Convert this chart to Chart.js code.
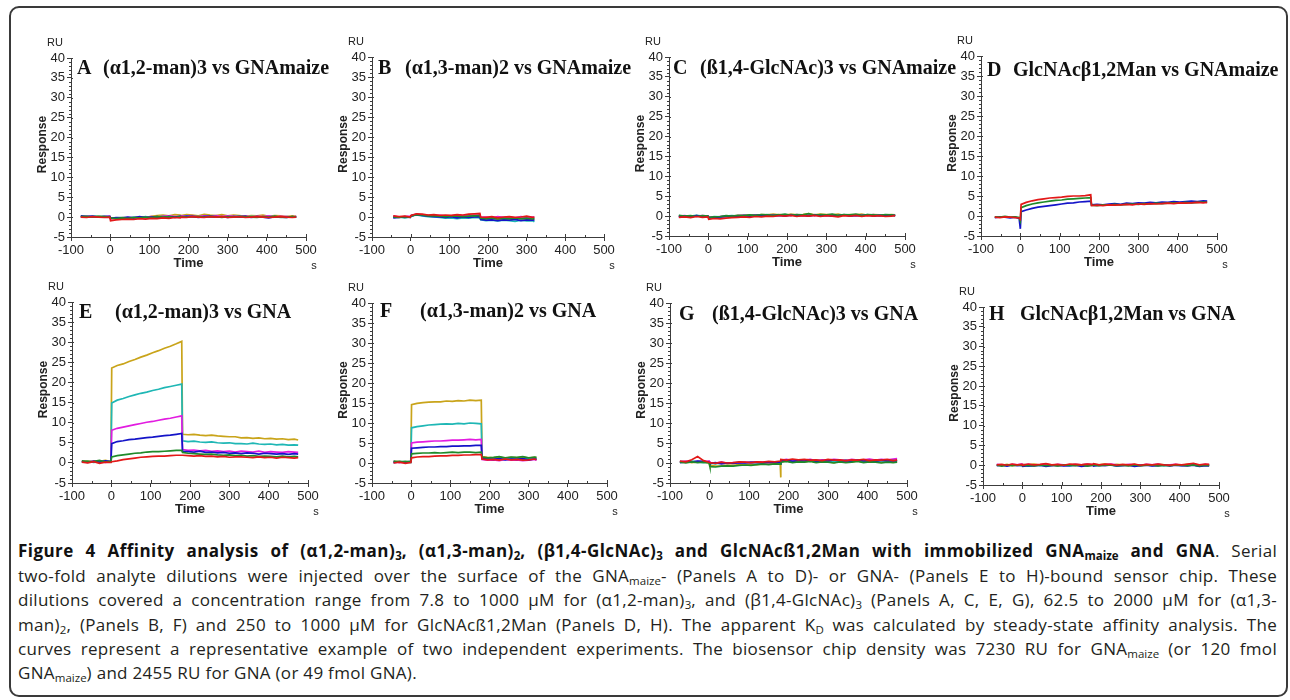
<!DOCTYPE html>
<html><head><meta charset="utf-8">
<script src="https://cdn.jsdelivr.net/npm/chart.js@4.4.1/dist/chart.umd.min.js"></script>
<style>
html,body{margin:0;padding:0;background:#fff;width:1290px;height:700px;overflow:hidden;}
#frame{position:absolute;left:9px;top:6px;width:1279px;height:691px;border:2px solid #3a3a3a;border-radius:10px;box-sizing:border-box;}
canvas{position:absolute;}
.cap{position:absolute;left:18px;width:1259px;font-family:"Open Sans",sans-serif;font-size:17px;letter-spacing:0.3px;color:#231f20;white-space:nowrap;text-align:justify;text-align-last:justify;line-height:20px;}
.cap.last{text-align-last:left;}
.cap b{color:#111;letter-spacing:0.45px;}
sub{font-size:11.5px;vertical-align:-3px;line-height:0;letter-spacing:0;}
</style></head>
<body>
<div id="frame"></div>
<div id="charts"></div>
<div class="cap" style="top:541px"><b>Figure 4 Affinity analysis of (α1,2-man)<sub>3</sub>, (α1,3-man)<sub>2</sub>, (β1,4-GlcNAc)<sub>3</sub> and GlcNAcß1,2Man with immobilized GNA<sub>maize</sub> and GNA</b>. Serial</div>
<div class="cap" style="top:566px">two-fold analyte dilutions were injected over the surface of the GNA<sub>maize</sub>- (Panels A to D)- or GNA- (Panels E to H)-bound sensor chip. These</div>
<div class="cap" style="top:590px">dilutions covered a concentration range from 7.8 to 1000 μM for (α1,2-man)<sub>3</sub>, and (β1,4-GlcNAc)<sub>3</sub> (Panels A, C, E, G), 62.5 to 2000 μM for (α1,3-</div>
<div class="cap" style="top:615px">man)<sub>2</sub>, (Panels B, F) and 250 to 1000 μM for GlcNAcß1,2Man (Panels D, H). The apparent K<sub>D</sub> was calculated by steady-state affinity analysis. The</div>
<div class="cap" style="top:639px">curves represent a representative example of two independent experiments. The biosensor chip density was 7230 RU for GNA<sub>maize</sub> (or 120 fmol</div>
<div class="cap last" style="top:663px">GNA<sub>maize</sub>) and 2455 RU for GNA (or 49 fmol GNA).</div>
<script>
// ---------- time grids (s) ----------
const tLong = [-75,-60,-45,-30,-15,-1,1,15,30,45,60,75,90,105,120,135,150,165,179,181,195,210,225,240,255,270,285,300,315,330,345,360,375,390,405,420,435,450,465,475];
const tShort = [-45,-30,-15,-1,1,15,30,45,60,75,90,105,120,135,150,165,179,181,195,210,225,240,255,270,285,300,315,320];
const tD = [-65,-52,-39,-26,-13,-3,0,2,15,30,45,60,75,90,105,120,135,150,165,179,181,195,210,225,240,255,270,285,300,315,330,345,360,375,390,405,420,435,450,465,475];
const tG = [-75,-60,-45,-30,-15,-1,1,15,30,45,60,75,90,105,120,135,150,165,179,180,181,195,210,225,240,255,270,285,300,315,330,345,360,375,390,405,420,435,450,465,475];
const tH = [-65,-52,-39,-26,-13,-1,1,15,30,45,60,75,90,105,120,135,150,165,179,181,195,210,225,240,255,270,285,300,315,330,345,360,375,390,405,420,435,450,465,475];

// ---------- axis ticks ----------
const xTicks = [-100,0,100,200,300,400,500];
const yTicks = [-5,0,5,10,15,20,25,30,35,40];

// ---------- panel titles ----------
const panelLetters = ['A','B','C','D','E','F','G','H'];
const panelTitles = ['(α1,2-man)3 vs GNAmaize','(α1,3-man)2 vs GNAmaize','(ß1,4-GlcNAc)3 vs GNAmaize','GlcNAcβ1,2Man vs GNAmaize','(α1,2-man)3 vs GNA','(α1,3-man)2 vs GNA','(ß1,4-GlcNAc)3 vs GNA','GlcNAcβ1,2Man vs GNA'];

// ---------- Panel A (Response, RU) ----------
const aYellow = [0.1,0.0,0.2,0.1,0.0,0.1,-0.2,-0.3,-0.1,-0.2,-0.1,0.0,-0.1,0.2,0.4,0.5,0.3,0.6,0.5,0.4,0.6,0.5,0.3,0.7,0.5,0.4,0.6,0.3,0.5,0.4,0.2,0.4,0.3,0.5,0.2,0.4,0.3,0.1,0.3,0.2];
const aCyan = [0.2,0.1,0.3,0.1,0.2,0.0,-0.3,-0.2,-0.1,-0.3,0.0,-0.2,0.1,-0.1,0.0,0.2,0.1,0.0,0.2,0.1,0.3,0.2,0.0,0.3,0.1,0.2,0.0,0.2,0.1,0.3,0.0,0.2,0.1,0.0,0.2,0.1,-0.1,0.1,0.0,0.1];
const aMagenta = [0.0,0.2,0.1,0.0,0.1,0.2,-0.4,-0.2,-0.3,-0.1,-0.2,0.0,-0.1,0.1,0.0,0.2,0.3,0.1,0.2,0.3,0.2,0.4,0.1,0.3,0.2,0.4,0.1,0.3,0.2,0.1,0.3,0.0,0.2,0.1,0.3,0.0,0.2,0.1,0.0,0.2];
const aBlue = [0.3,0.1,0.2,0.0,0.1,0.2,-0.3,-0.1,-0.2,0.0,-0.2,0.1,-0.1,0.0,0.1,-0.1,0.1,0.0,0.2,0.0,0.2,0.1,-0.1,0.1,0.2,0.0,0.1,-0.1,0.1,0.0,0.2,-0.1,0.1,0.0,-0.2,0.1,0.0,-0.1,0.1,0.0];
const aGreen = [0.1,0.2,0.0,0.2,0.1,0.0,-0.2,-0.4,-0.2,-0.3,-0.1,-0.2,0.0,-0.1,0.1,0.0,0.1,-0.1,0.1,0.1,0.0,0.2,0.1,0.0,0.2,0.1,-0.1,0.1,0.0,0.2,0.1,0.0,-0.1,0.1,0.0,0.2,0.0,-0.1,0.1,0.0];
const aRed = [0.0,-0.1,0.1,0.0,-0.1,0.0,-0.9,-0.7,-0.6,-0.5,-0.6,-0.4,-0.5,-0.3,-0.4,-0.2,-0.3,-0.1,-0.2,0.0,-0.1,0.1,0.0,-0.1,0.1,0.0,0.1,-0.1,0.0,0.1,-0.1,0.0,0.1,0.0,-0.1,0.0,0.1,0.0,-0.1,0.0];

// ---------- Panel B ----------
const bYellow = [0.1,0.0,-0.1,0.1,0.3,0.6,0.5,0.4,0.4,0.3,0.2,0.3,0.2,0.3,0.1,0.2,0.3,-0.4,-0.5,-0.3,-0.6,-0.4,-0.5,-0.3,-0.5,-0.4,-0.6,-0.5];
const bCyan = [-0.1,0.0,-0.2,0.0,0.2,0.5,0.3,0.1,0.0,-0.1,-0.3,-0.2,-0.4,-0.2,-0.3,-0.1,-0.2,-0.7,-0.9,-0.8,-1.0,-0.8,-0.9,-1.1,-0.8,-1.0,-0.9,-1.2];
const bMagenta = [0.2,0.0,0.1,0.2,0.4,0.7,0.5,0.4,0.3,0.4,0.2,0.3,0.4,0.3,0.2,0.4,0.5,-0.1,0.0,-0.2,0.1,-0.1,0.0,-0.2,0.1,-0.1,0.0,-0.1];
const bBlue = [-0.2,-0.1,0.0,-0.1,0.3,0.6,0.4,0.2,0.1,0.0,-0.1,0.1,-0.2,0.0,-0.1,0.0,0.1,-0.6,-0.8,-0.7,-0.9,-0.7,-0.8,-0.6,-0.9,-0.7,-0.8,-0.7];
const bGreen = [0.0,-0.1,0.1,-0.1,0.3,0.6,0.5,0.3,0.3,0.2,0.1,0.3,0.2,0.1,0.2,0.3,0.4,-0.3,-0.4,-0.2,-0.5,-0.3,-0.4,-0.2,-0.4,-0.3,-0.5,-0.3];
const bRed = [0.3,0.1,0.2,0.0,0.4,0.8,0.7,0.5,0.6,0.4,0.5,0.4,0.6,0.5,0.7,0.8,0.9,0.0,-0.1,0.1,-0.2,0.0,0.1,-0.1,0.0,0.2,-0.1,0.0];

// ---------- Panel C ----------
const cYellow = [-0.1,0.0,-0.2,0.1,-0.1,0.0,-0.4,-0.2,-0.3,-0.1,0.0,0.1,0.2,0.3,0.2,0.4,0.3,0.5,0.3,0.4,0.2,0.5,0.3,0.4,0.6,0.3,0.5,0.4,0.3,0.5,0.2,0.4,0.3,0.5,0.2,0.4,0.3,0.2,0.4,0.3];
const cCyan = [0.1,-0.1,0.0,0.2,0.0,-0.1,-0.3,-0.1,-0.2,0.0,0.1,0.0,0.2,0.1,0.3,0.2,0.4,0.2,0.3,0.3,0.1,0.4,0.2,0.3,0.1,0.4,0.2,0.3,0.1,0.2,0.4,0.1,0.3,0.2,0.4,0.1,0.3,0.2,0.1,0.2];
const cMagenta = [0.0,0.1,-0.1,0.0,0.1,0.0,-0.2,-0.3,-0.1,0.0,-0.1,0.1,0.2,0.1,0.3,0.2,0.1,0.3,0.2,0.2,0.3,0.1,0.4,0.2,0.3,0.1,0.3,0.2,0.4,0.1,0.3,0.2,0.1,0.3,0.2,0.4,0.1,0.2,0.3,0.2];
const cBlue = [-0.2,0.0,-0.1,0.1,-0.1,0.0,-0.5,-0.3,-0.2,-0.1,0.0,-0.1,0.1,0.0,0.2,0.3,0.1,0.2,0.1,0.2,0.0,0.3,0.1,0.2,0.0,0.3,0.1,0.2,0.0,0.1,0.3,0.0,0.2,0.1,0.3,0.0,0.2,0.1,0.3,0.1];
const cGreen = [0.2,0.0,0.1,-0.1,0.1,0.0,-0.3,-0.2,-0.1,0.1,0.0,0.2,0.1,0.3,0.2,0.4,0.3,0.2,0.4,0.3,0.5,0.2,0.4,0.3,0.6,0.2,0.4,0.3,0.5,0.2,0.4,0.3,0.5,0.2,0.4,0.3,0.2,0.4,0.3,0.2];
const cRed = [-0.3,-0.2,-0.4,-0.1,-0.3,-0.2,-0.8,-0.6,-0.7,-0.5,-0.4,-0.3,-0.2,-0.3,-0.1,-0.2,0.0,-0.1,0.1,0.1,0.0,0.2,-0.1,0.1,0.0,0.2,-0.1,0.1,0.0,-0.2,0.1,0.0,0.2,-0.1,0.1,0.0,0.1,-0.1,0.0,0.1];

// ---------- Panel D ----------
const dBlue = [-0.4,-0.2,-0.3,-0.5,-0.3,-0.6,-3.2,1.1,1.5,1.9,2.2,2.4,2.6,2.8,3.0,3.2,3.3,3.5,3.6,3.7,2.8,2.9,2.8,3.0,3.1,2.9,3.2,3.1,3.3,3.2,3.4,3.3,3.5,3.4,3.6,3.5,3.6,3.7,3.6,3.8,3.7];
const dGreen = [-0.2,-0.3,-0.1,-0.3,-0.2,-0.4,-1.2,2.1,2.6,3.0,3.3,3.5,3.7,3.9,4.0,4.2,4.3,4.4,4.5,4.6,2.7,2.6,2.8,2.7,2.9,2.8,2.9,3.0,2.9,3.1,3.0,3.2,3.1,3.2,3.3,3.2,3.4,3.3,3.4,3.5,3.4];
const dRed = [-0.3,-0.4,-0.2,-0.3,-0.4,-0.5,-0.8,2.9,3.4,3.8,4.1,4.3,4.5,4.6,4.7,4.9,5.0,5.0,5.1,5.3,2.6,2.7,2.6,2.8,2.7,2.8,2.9,2.8,3.0,2.9,3.1,3.0,3.1,3.2,3.1,3.3,3.2,3.3,3.4,3.3,3.4];

// ---------- Panel E ----------
const eYellow = [0.3,0.5,0.2,0.4,0.6,0.3,23.6,24.2,24.6,25.2,25.7,26.3,26.8,27.4,27.9,28.5,29.0,29.6,30.2,7.1,7.0,7.1,6.9,6.8,6.9,6.7,6.6,6.5,6.5,6.2,6.3,6.1,6.2,6.0,6.1,5.9,6.0,5.8,5.9,5.7];
const eCyan = [0.2,0.4,0.1,0.3,0.5,0.2,14.9,15.6,16.0,16.5,16.9,17.3,17.6,18.0,18.3,18.7,19.0,19.3,19.6,5.5,5.3,5.4,5.2,5.1,5.2,5.0,4.9,5.0,4.8,4.8,4.7,4.9,4.7,4.6,4.7,4.5,4.6,4.4,4.5,4.4];
const eMagenta = [0.4,0.2,0.5,0.3,0.1,0.4,8.1,8.6,8.9,9.2,9.5,9.8,10.1,10.3,10.6,10.9,11.1,11.4,11.7,3.3,3.1,3.2,3.0,3.1,2.9,3.0,2.8,2.9,2.7,2.9,2.8,2.7,2.9,2.6,2.8,2.7,2.6,2.8,2.7,2.6];
const eBlue = [0.3,0.1,0.4,0.2,0.5,0.3,4.8,5.3,5.5,5.8,5.9,6.1,6.3,6.4,6.6,6.8,6.9,7.1,7.3,2.9,2.8,2.7,2.9,2.6,2.7,2.5,2.6,2.4,2.5,2.3,2.5,2.4,2.2,2.4,2.3,2.2,2.3,2.1,2.3,2.2];
const eGreen = [0.5,0.3,0.4,0.6,0.2,0.4,1.5,1.8,2.0,2.2,2.4,2.5,2.7,2.8,2.8,2.9,3.0,3.1,3.1,2.6,2.4,2.3,2.2,2.1,2.2,2.0,1.9,2.0,1.8,1.9,1.7,1.8,1.6,1.7,1.6,1.5,1.7,1.5,1.6,1.5];
const eRed = [0.2,0.0,0.3,-0.1,0.2,0.1,0.3,0.5,0.8,1.0,1.2,1.4,1.5,1.6,1.7,1.7,1.8,1.9,1.9,1.9,1.8,1.7,1.8,1.6,1.7,1.5,1.6,1.4,1.5,1.5,1.4,1.3,1.5,1.3,1.4,1.2,1.4,1.3,1.2,1.3];

// ---------- Panel F ----------
const fYellow = [0.3,0.5,0.1,0.4,14.6,14.9,15.1,15.2,15.3,15.3,15.5,15.4,15.6,15.5,15.7,15.6,15.7,1.6,1.4,1.3,1.5,1.2,1.4,1.3,1.5,1.2,1.4,1.3];
const fCyan = [0.2,0.4,0.3,0.1,8.8,9.1,9.3,9.5,9.6,9.7,9.8,9.7,9.9,9.8,10.0,9.9,9.8,1.3,1.1,1.2,1.0,1.3,1.1,1.2,0.9,1.1,1.2,1.0];
const fMagenta = [0.4,0.1,0.3,0.2,5.0,5.2,5.3,5.4,5.5,5.5,5.6,5.7,5.7,5.8,5.9,5.8,5.9,0.9,0.7,0.8,0.6,0.9,0.7,0.8,0.6,0.7,0.9,0.7];
const fBlue = [0.1,0.3,0.2,0.4,3.7,3.8,3.9,4.0,4.0,4.1,4.1,4.2,4.2,4.3,4.3,4.4,4.4,1.1,1.0,0.9,1.1,0.8,1.0,0.9,1.1,0.8,1.0,0.9];
const fGreen = [0.5,0.2,0.4,0.3,2.3,2.4,2.5,2.5,2.6,2.5,2.6,2.7,2.6,2.7,2.7,2.6,2.7,1.5,1.3,1.4,1.6,1.3,1.5,1.4,1.6,1.3,1.5,1.4];
const fRed = [0.0,0.2,-0.1,0.1,1.3,1.5,1.6,1.6,1.7,1.8,1.8,1.9,1.9,2.0,2.0,2.1,2.1,1.0,0.8,0.9,0.7,1.0,0.8,0.9,0.7,0.8,1.0,0.8];

// ---------- Panel G ----------
const gYellow = [0.2,0.4,0.1,0.3,0.2,0.0,-0.6,-0.8,-0.7,-0.5,-0.6,-0.4,-0.5,-0.3,-0.4,-0.2,-0.3,-0.1,-0.2,-3.6,0.3,0.5,0.2,0.4,0.3,0.5,0.2,0.4,0.3,0.1,0.4,0.2,0.3,0.5,0.2,0.4,0.3,0.2,0.4,0.3,0.2];
const gCyan = [0.4,0.2,0.5,0.3,0.1,0.3,0.0,-0.2,0.1,-0.1,0.0,0.2,0.1,0.0,0.2,0.1,0.3,0.2,0.1,0.0,0.6,0.4,0.7,0.5,0.6,0.4,0.7,0.5,0.6,0.4,0.5,0.7,0.4,0.6,0.5,0.7,0.4,0.6,0.5,0.7,0.6];
const gMagenta = [0.3,0.5,0.2,0.4,0.3,0.5,0.1,0.0,0.2,-0.1,0.1,0.0,0.2,0.1,0.3,0.2,0.1,0.3,0.2,0.2,0.7,0.9,0.6,0.8,0.7,0.9,0.6,0.8,0.7,0.9,0.8,0.6,0.9,0.7,0.8,1.0,0.7,0.9,0.8,1.0,1.1];
const gBlue = [0.1,0.3,0.2,0.5,0.4,0.2,-0.1,0.1,-0.2,0.0,-0.1,0.1,0.0,0.2,0.1,0.0,0.2,0.1,0.3,0.1,0.5,0.7,0.4,0.6,0.5,0.7,0.4,0.6,0.5,0.8,0.5,0.6,0.4,0.7,0.5,0.6,0.4,0.7,0.5,0.6,0.5];
const gGreen = [0.2,0.0,0.3,0.1,0.2,0.0,-0.9,-1.0,-0.8,-0.7,-0.8,-0.6,-0.5,-0.6,-0.4,-0.3,-0.4,-0.2,-0.3,-0.3,0.2,0.4,0.1,0.3,0.2,0.4,0.1,0.3,0.2,0.0,0.3,0.1,0.2,0.4,0.1,0.3,0.2,0.0,0.2,0.1,0.2];
const gRed = [0.5,0.3,0.8,1.6,0.6,0.2,0.1,-0.1,0.2,0.0,0.1,0.3,0.2,0.1,0.3,0.2,0.4,0.3,0.5,0.5,0.9,0.7,1.0,0.8,0.9,0.7,0.8,0.6,0.9,0.7,0.8,0.6,0.8,0.7,0.9,0.6,0.8,0.7,0.9,0.6,0.8];

// ---------- Panel H ----------
const hYellow = [0.1,0.0,0.2,-0.1,0.1,0.0,0.2,0.1,0.3,0.0,0.2,0.1,-0.1,0.1,0.0,0.2,0.1,0.3,0.0,0.2,0.1,0.3,0.0,0.2,0.1,0.0,0.2,-0.1,0.1,0.0,0.2,0.1,-0.1,0.1,0.0,0.2,0.1,-0.2,0.1,0.0];
const hCyan = [0.0,0.1,-0.1,0.1,0.0,-0.1,0.0,-0.2,0.1,-0.1,0.0,0.1,-0.1,0.0,-0.2,0.1,0.0,-0.1,0.1,0.0,-0.1,0.1,0.0,-0.2,0.0,0.1,-0.1,0.0,0.1,-0.1,0.0,-0.2,0.1,0.0,-0.1,0.1,0.0,-0.1,0.0,0.1];
const hMagenta = [0.2,0.1,0.0,0.2,0.1,0.3,0.1,0.2,0.0,0.1,0.3,0.0,0.2,0.1,0.0,0.2,0.1,0.3,0.1,0.2,0.0,0.1,0.3,0.1,0.0,0.2,0.1,0.0,0.2,0.1,0.3,0.0,0.1,0.2,0.0,0.1,0.3,0.0,0.2,0.1];
const hBlue = [-0.1,0.0,-0.2,0.1,-0.1,0.0,-0.3,-0.1,-0.2,0.0,-0.3,-0.1,0.0,-0.2,-0.1,0.0,-0.3,-0.1,0.0,-0.2,0.0,-0.1,0.1,-0.2,-0.1,0.0,-0.3,-0.1,0.0,-0.2,-0.1,0.1,-0.2,0.0,-0.1,-0.2,0.0,-0.3,-0.1,-0.2];
const hGreen = [0.0,-0.2,0.1,-0.1,0.0,0.1,-0.1,0.0,-0.2,0.1,-0.1,0.0,-0.2,0.1,0.0,-0.1,0.1,-0.2,0.0,0.1,-0.1,0.0,0.1,-0.1,0.0,-0.2,0.1,-0.1,0.0,0.1,-0.2,0.0,-0.1,0.1,0.0,-0.1,0.1,-0.2,0.0,-0.1];
const hRed = [0.1,0.2,0.0,0.3,0.1,0.2,0.0,0.3,0.1,0.2,0.4,0.1,0.2,0.0,0.3,0.2,0.1,0.3,0.2,0.4,0.1,0.3,0.2,0.0,0.2,0.1,0.3,0.0,0.2,0.1,0.3,0.1,0.0,0.2,0.1,0.3,0.5,0.1,0.3,0.2];

// ---------- styling ----------
const COL = {red:'#e31818', green:'#1f8a2a', blue:'#1414c8', magenta:'#e21ce0', cyan:'#1fb7b5', yellow:'#c9a41a'};

// plot area boxes [left, top, right, bottom] and title placement [letterX, restX, centerY]
const panels = [
  {t:tLong, s:[['red',aRed],['green',aGreen],['blue',aBlue],['magenta',aMagenta],['cyan',aCyan],['yellow',aYellow]], box:[71,58,306,237], ttl:[77,103,69]},
  {t:tShort, s:[['red',bRed],['green',bGreen],['blue',bBlue],['magenta',bMagenta],['cyan',bCyan],['yellow',bYellow]], box:[372,57,604,237], ttl:[378,405,69]},
  {t:tLong, s:[['red',cRed],['green',cGreen],['blue',cBlue],['magenta',cMagenta],['cyan',cCyan],['yellow',cYellow]], box:[669,57,905,236], ttl:[673,700,69]},
  {t:tD, s:[['red',dRed],['green',dGreen],['blue',dBlue]], box:[981,56,1217,236], ttl:[987,1013,71]},
  {t:tLong, s:[['red',eRed],['green',eGreen],['blue',eBlue],['magenta',eMagenta],['cyan',eCyan],['yellow',eYellow]], box:[72,302,308,483], ttl:[79,115,313]},
  {t:tShort, s:[['red',fRed],['green',fGreen],['blue',fBlue],['magenta',fMagenta],['cyan',fCyan],['yellow',fYellow]], box:[372,303,607,483], ttl:[380,420,312]},
  {t:tG, s:[['red',gRed],['green',gGreen],['blue',gBlue],['magenta',gMagenta],['cyan',gCyan],['yellow',gYellow]], box:[670,303,907,483], ttl:[679,712,315]},
  {t:tH, s:[['red',hRed],['green',hGreen],['blue',hBlue],['magenta',hMagenta],['cyan',hCyan],['yellow',hYellow]], box:[983,307,1219,485], ttl:[989,1020,315]}
];

const PADL = 65, PADT = 30, PADR = 70, PADB = 45;
const AXC = '#3c3c3c';

const decor = {
  id: 'decor',
  afterDraw(chart, args, opts) {
    const {ctx, chartArea: ca, scales: {x, y}} = chart;
    const p = opts.p;
    ctx.save();
    ctx.strokeStyle = AXC; ctx.lineWidth = 1;
    ctx.beginPath();
    for (let v = -5; v <= 40; v += 1) {
      const py = Math.round(y.getPixelForValue(v)) + 0.5;
      if (v % 5 === 0) { ctx.moveTo(ca.left, py); ctx.lineTo(ca.left + 2, py); }
      else { ctx.moveTo(ca.left - 2, py); ctx.lineTo(ca.left, py); }
    }
    for (let v = -100; v <= 500; v += 50) {
      const px = Math.round(x.getPixelForValue(v)) + 0.5;
      ctx.moveTo(px, ca.bottom); ctx.lineTo(px, ca.bottom - (v % 100 === 0 ? 3 : 2));
    }
    ctx.stroke();
    ctx.fillStyle = '#222';
    ctx.font = '11px "Liberation Sans", Arial, sans-serif';
    ctx.textAlign = 'center'; ctx.textBaseline = 'middle';
    ctx.fillText('RU', ca.left - 16, ca.top - 15);
    ctx.fillText('s', ca.right + 8, ca.bottom + 29);
    ctx.font = 'bold 13px "Liberation Sans", Arial, sans-serif';
    ctx.fillText('Time', (ca.left + ca.right) / 2, ca.bottom + 26);
    ctx.save();
    ctx.translate(ca.left - 28, (ca.top + ca.bottom) / 2 - 3);
    ctx.rotate(-Math.PI / 2);
    ctx.font = 'bold 12px "Liberation Sans", Arial, sans-serif';
    ctx.fillText('Response', 0, 0);
    ctx.restore();
    const ox = p.box[0] - PADL, oy = p.box[1] - PADT;
    ctx.fillStyle = '#111';
    ctx.font = 'bold 20px "Liberation Serif", "Times New Roman", serif';
    ctx.textAlign = 'left';
    ctx.fillText(p.letter, p.ttl[0] - ox, p.ttl[2] - oy);
    ctx.fillText(p.title, p.ttl[1] - ox, p.ttl[2] - oy);
    ctx.restore();
  }
};

const holder = document.getElementById('charts');
panels.forEach((p, i) => {
  p.letter = panelLetters[i]; p.title = panelTitles[i];
  const [L, T, R, B] = p.box;
  const cv = document.createElement('canvas');
  const w = (R - L) + PADL + PADR, h = (B - T) + PADT + PADB;
  cv.width = w; cv.height = h;
  cv.style.left = (L - PADL) + 'px'; cv.style.top = (T - PADT) + 'px';
  cv.style.width = w + 'px'; cv.style.height = h + 'px';
  holder.appendChild(cv);
  const datasets = p.s.map(([c, arr]) => ({
    data: arr.map((v, k) => ({x: p.t[k], y: v})),
    borderColor: COL[c], borderWidth: 1.7, pointRadius: 0, tension: 0, fill: false
  }));
  new Chart(cv, {
    type: 'line',
    data: {datasets},
    plugins: [decor],
    options: {
      responsive: false, animation: false, devicePixelRatio: 1,
      layout: {padding: {left: 0, top: PADT, right: PADR, bottom: 0}},
      plugins: {legend: {display: false}, tooltip: {enabled: false}, decor: {p}},
      scales: {
        x: {
          type: 'linear', min: -100, max: 500,
          afterBuildTicks: s => { s.ticks = xTicks.map(v => ({value: v})); },
          afterFit: s => { s.height = PADB; },
          grid: {display: true, drawOnChartArea: false, drawTicks: true, tickLength: 4, color: AXC},
          border: {display: true, color: AXC, width: 1},
          ticks: {color: '#222', padding: 2, maxRotation: 0, autoSkip: false, font: {family: '"Liberation Sans", Arial, sans-serif', size: 13}}
        },
        y: {
          type: 'linear', min: -5, max: 40,
          afterBuildTicks: s => { s.ticks = yTicks.map(v => ({value: v})); },
          afterFit: s => { s.width = PADL; },
          grid: {display: true, drawOnChartArea: false, drawTicks: true, tickLength: 4, color: AXC},
          border: {display: true, color: AXC, width: 1},
          ticks: {color: '#222', padding: 2, autoSkip: false, font: {family: '"Liberation Sans", Arial, sans-serif', size: 13}}
        }
      }
    }
  });
});
</script>
</body></html>
